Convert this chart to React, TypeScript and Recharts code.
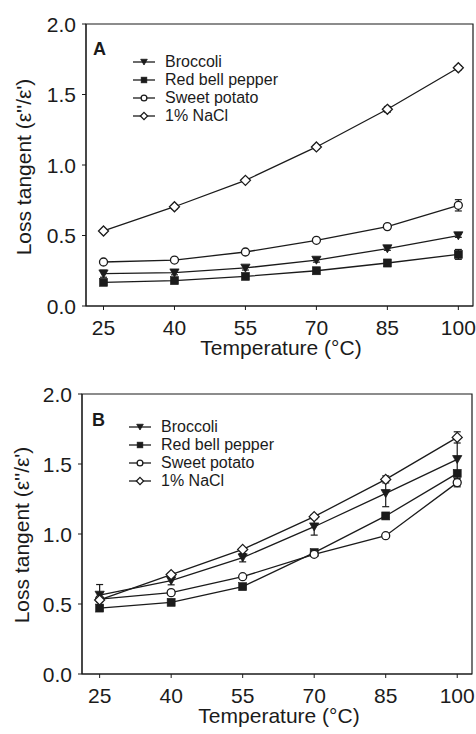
import React from 'react';
import {
  LineChart,
  Line,
  XAxis,
  YAxis,
  ErrorBar,
  ReferenceArea,
} from 'recharts';

// temperatures (°C)
const temps = [25, 40, 55, 70, 85, 100];
const xTicks = [25, 40, 55, 70, 85, 100];
const yTicks = [0, 0.5, 1.0, 1.5, 2.0];

// panel A
const brocA = [0.229, 0.236, 0.27, 0.326, 0.407, 0.499];
const brocErrA = [0.025, 0.015, 0.015, 0.015, 0.012, 0.012];
const pepperA = [0.168, 0.18, 0.21, 0.25, 0.305, 0.366];
const pepperErrA = [0.015, 0.015, 0.02, 0.02, 0.025, 0.035];
const potatoA = [0.312, 0.326, 0.383, 0.466, 0.563, 0.714];
const potatoErrA = [0.01, 0.01, 0.01, 0.01, 0.01, 0.04];
const naclA = [0.532, 0.704, 0.891, 1.128, 1.395, 1.69];
const naclErrA = [0.01, 0.015, 0.01, 0.012, 0.02, 0.015];

// panel B
const brocB = [0.564, 0.667, 0.831, 1.052, 1.29, 1.533];
const brocErrB = [0.075, 0.03, 0.03, 0.06, 0.095, 0.15];
const pepperB = [0.471, 0.512, 0.624, 0.867, 1.129, 1.433];
const pepperErrB = [0.02, 0.01, 0.01, 0.01, 0.01, 0.02];
const potatoB = [0.535, 0.581, 0.695, 0.855, 0.988, 1.367];
const potatoErrB = [0.01, 0.01, 0.01, 0.01, 0.01, 0.03];
const naclB = [0.529, 0.71, 0.89, 1.124, 1.39, 1.69];
const naclErrB = [0.01, 0.01, 0.01, 0.015, 0.025, 0.04];

const seriesNames = ['Broccoli', 'Red bell pepper', 'Sweet potato', '1% NaCl'];
const seriesKeys = ['broc', 'pepper', 'potato', 'nacl'];
const seriesShapes = ['triangle', 'square', 'circle', 'diamond'];

const xTitle = 'Temperature (°C)';
const yTitle = "Loss tangent (ε''/ε')";

const INK = '#1b1b1b';
const FONT = '"Liberation Sans", Arial, sans-serif';

function buildRows(b: number[], be: number[], p: number[], pe: number[], s: number[], se: number[], n: number[], ne: number[]) {
  return temps.map((t, i) => ({
    t,
    broc: b[i], brocErr: be[i],
    pepper: p[i], pepperErr: pe[i],
    potato: s[i], potatoErr: se[i],
    nacl: n[i], naclErr: ne[i],
  }));
}

const rowsA = buildRows(brocA, brocErrA, pepperA, pepperErrA, potatoA, potatoErrA, naclA, naclErrA);
const rowsB = buildRows(brocB, brocErrB, pepperB, pepperErrB, potatoB, potatoErrB, naclB, naclErrB);

function Marker({ shape, cx, cy, s = 1 }: { shape: string; cx: number; cy: number; s?: number }) {
  if (cx == null || cy == null) return null;
  if (shape === 'triangle') {
    const w = 4.6 * s;
    return (
      <polygon
        points={`${cx - w},${cy - 3.8 * s} ${cx + w},${cy - 3.8 * s} ${cx},${cy + 4.2 * s}`}
        fill={INK}
        stroke={INK}
        strokeWidth={0.8}
      />
    );
  }
  if (shape === 'square') {
    const h = 4 * s;
    return <rect x={cx - h} y={cy - h} width={2 * h} height={2 * h} fill={INK} stroke={INK} strokeWidth={0.6} />;
  }
  if (shape === 'circle') {
    return <circle cx={cx} cy={cy} r={4 * s} fill="#fff" stroke={INK} strokeWidth={1.3} />;
  }
  const d = 5 * s;
  return (
    <polygon
      points={`${cx},${cy - d} ${cx + d},${cy} ${cx},${cy + d} ${cx - d},${cy}`}
      fill="#fff"
      stroke={INK}
      strokeWidth={1.3}
    />
  );
}

const XTick = (p: any) => (
  <text x={p.x} y={p.y} dy="0.71em" textAnchor="middle" fill={INK} fontSize={21} fontFamily={FONT}>
    {p.payload.value}
  </text>
);

const YTick = (p: any) => (
  <text x={p.x} y={p.y} dy="0.36em" textAnchor="end" fill={INK} fontSize={21} fontFamily={FONT}>
    {Number(p.payload.value).toFixed(1)}
  </text>
);

interface PanelProps {
  letter: string;
  rows: any[];
  height: number;
  yAxisWidth: number;
  xAxisHeight: number;
  rightMargin: number;
  xTitleX: number;
  xTitleY: number;
  yTitleX: number;
  yTitleY: number;
  letterTop: number;
  letterLeft: number;
  legendTop: number;
  legendLeft: number;
}

const xDomain = [21.3, 103.1];

function Panel(props: PanelProps) {
  const { letter, rows, height, yAxisWidth, xAxisHeight, rightMargin } = props;

  return (
    <div style={{ position: 'relative', width: 476, height }}>
      <LineChart width={476} height={height} data={rows} margin={{ top: 24, right: rightMargin, left: 0, bottom: 0 }}>
        <ReferenceArea x1={xDomain[0]} x2={xDomain[1]} y1={0} y2={2} fill="none" stroke={INK} strokeWidth={1.2} />
        <XAxis
          dataKey="t"
          type="number"
          domain={xDomain}
          ticks={xTicks}
          allowDataOverflow
          height={xAxisHeight}
          tickSize={4}
          tickMargin={10}
          stroke={INK}
          tick={XTick}
        />
        <YAxis
          type="number"
          domain={[0, 2]}
          ticks={yTicks}
          width={yAxisWidth}
          tickSize={4}
          tickMargin={6}
          stroke={INK}
          tick={YTick}
        />
        {seriesKeys.map((k, si) => (
          <Line
            key={k}
            dataKey={k}
            type="linear"
            stroke={INK}
            strokeWidth={1.3}
            isAnimationActive={false}
            dot={(p: any) => (
              <Marker key={`${k}-${p.index}`} shape={seriesShapes[si]} cx={p.cx} cy={p.cy} />
            )}
            activeDot={false}
          >
            <ErrorBar dataKey={`${k}Err`} direction="y" width={3.5} stroke={INK} strokeWidth={1.2} />
          </Line>
        ))}
      </LineChart>

      {/* axis titles */}
      <svg width={476} height={height} style={{ position: 'absolute', left: 0, top: 0, pointerEvents: 'none' }}>
        <text x={props.xTitleX} y={props.xTitleY} textAnchor="middle" fill={INK} fontSize={21} fontFamily={FONT}>
          {xTitle}
        </text>
        <text
          x={props.yTitleX}
          y={props.yTitleY}
          dy="0.36em"
          textAnchor="middle"
          fill={INK}
          fontSize={21}
          fontFamily={FONT}
          transform={`rotate(-90 ${props.yTitleX} ${props.yTitleY})`}
        >
          {yTitle}
        </text>
      </svg>

      <div
        style={{
          position: 'absolute',
          left: props.letterLeft,
          top: props.letterTop,
          fontFamily: FONT,
          fontWeight: 'bold',
          fontSize: 18,
          color: INK,
          lineHeight: '18px',
        }}
      >
        {letter}
      </div>

      <div style={{ position: 'absolute', left: props.legendLeft, top: props.legendTop, fontFamily: FONT, color: INK }}>
        {seriesNames.map((name, si) => (
          <div key={name} style={{ display: 'flex', alignItems: 'center', height: 18, fontSize: 16 }}>
            <svg width={22} height={12} style={{ marginRight: 10 }}>
              <line x1={0} y1={6} x2={22} y2={6} stroke={INK} strokeWidth={1.3} />
              <Marker shape={seriesShapes[si]} cx={11} cy={6} s={0.72} />
            </svg>
            <span>{name}</span>
          </div>
        ))}
      </div>
    </div>
  );
}

export default function App() {
  return (
    <div style={{ position: 'absolute', left: 0, top: 0, width: 476, height: 734, background: '#fff', overflow: 'hidden' }}>
      <Panel
        letter="A"
        rows={rowsA}
        height={370}
        yAxisWidth={86}
        xAxisHeight={64}
        rightMargin={3}
        xTitleX={281}
        xTitleY={355}
        yTitleX={23}
        yTitleY={167}
        letterTop={40}
        letterLeft={93}
        legendTop={53}
        legendLeft={133}
      />
      <Panel
        letter="B"
        rows={rowsB}
        height={364}
        yAxisWidth={82}
        xAxisHeight={60}
        rightMargin={4}
        xTitleX={279}
        xTitleY={353}
        yTitleX={21}
        yTitleY={165}
        letterTop={41}
        letterLeft={92}
        legendTop={48}
        legendLeft={129}
      />
    </div>
  );
}
